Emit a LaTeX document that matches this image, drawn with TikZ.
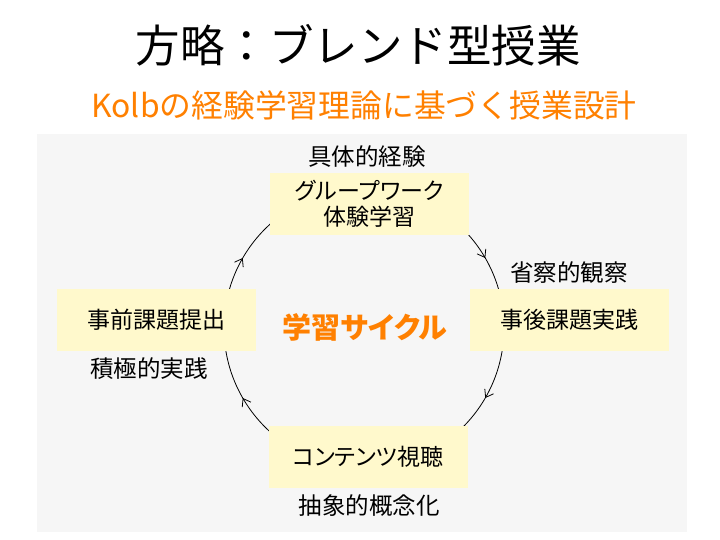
\documentclass[tikz,border=0pt]{standalone}
\usepackage{fontspec}
\setmainfont{Noto Sans CJK JP}
\newfontfamily\jpp[RawFeature={+palt}]{Noto Sans CJK JP}
\usetikzlibrary{decorations.markings,arrows.meta}
\definecolor{orng}{RGB}{255,128,0}
\definecolor{bggray}{RGB}{246,246,246}
\definecolor{boxy}{RGB}{255,249,204}
\tikzset{
  stagebox/.style={fill=boxy, minimum width=199pt, minimum height=62pt, inner sep=0pt, align=center, font=\jpp\fontsize{23}{26}\selectfont},
  phaselabel/.style={inner sep=0pt, font=\jpp\fontsize{23.5}{26}\selectfont},
  cyclehead/.tip={Straight Barb[length=7pt,width=10pt,line width=0.8pt]},
  cyclearc/.style={line width=0.8pt, postaction={decorate}, decoration={markings,
     mark=at position 0.1667 with {\arrow{cyclehead}},
     mark=at position 0.3333 with {\arrow{cyclehead}},
     mark=at position 0.6667 with {\arrow{cyclehead}},
     mark=at position 0.8333 with {\arrow{cyclehead}}}}
}
\begin{document}
\begin{tikzpicture}[x=1pt,y=-1pt]
\useasboundingbox (0,0) rectangle (720,540);
\fill[white] (0,0) rectangle (720,540);
\node[inner sep=0pt] (title) at (358,45) {\fontsize{44.5}{50}\selectfont 方略：ブレンド型授業};
\node[inner sep=0pt, text=orng] (sub) at (364,105) {\fontsize{31.8}{36}\selectfont Kolbの経験学習理論に基づく授業設計};
\fill[bggray] (37,134) rectangle (687,532);
\coordinate (ctr) at (364,328);
\draw[cyclearc] (364,188) arc[start angle=-90, end angle=270, radius=140];
\node[stagebox] (top) at (369.5,204) {グループワーク\\体験学習};
\node[stagebox] (right) at (569,320) {事後課題実践};
\node[stagebox] (bottom) at (368,456.5) {コンテンツ視聴};
\node[stagebox] (left) at (156.5,319.5) {事前課題提出};
\node[phaselabel] (l1) at (367,157) {具体的経験};
\node[phaselabel] (l2) at (569,273) {省察的観察};
\node[phaselabel] (l3) at (369,506) {抽象的概念化};
\node[phaselabel] (l4) at (149,369) {積極的実践};
\node[inner sep=0pt, text=orng, font=\jpp\bfseries\fontsize{29}{32}\selectfont] (cycle) at (365,327) {学習サイクル};
\end{tikzpicture}
\end{document}
